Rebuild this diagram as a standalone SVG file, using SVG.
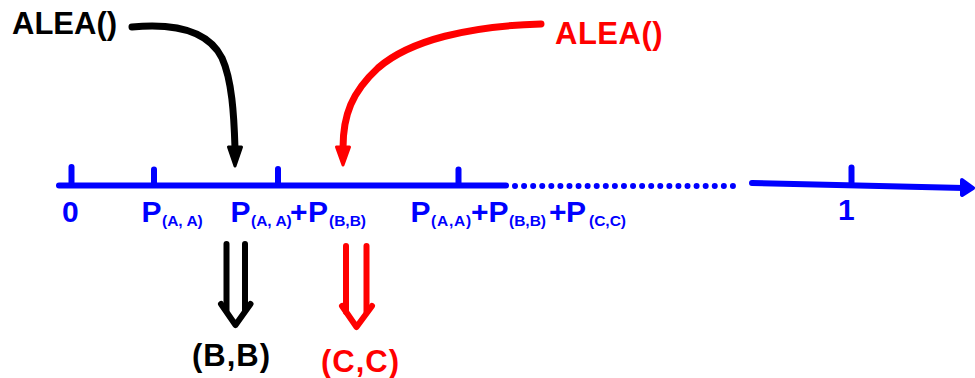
<svg xmlns="http://www.w3.org/2000/svg" width="975" height="378" viewBox="0 0 975 378">
<style>
  .t { font-family: "Liberation Sans", Arial, sans-serif; font-weight: bold; }
  .blue { fill: #0000ff; }
  .axis { stroke: #0000ff; stroke-width: 6; stroke-linecap: round; fill: none; }
  .lbl { font-size: 30px; }
  .sub { font-size: 15.5px; }
  .curveK { stroke: #000; stroke-width: 7; fill: none; stroke-linecap: round; }
  .curveR { stroke: #ff0000; stroke-width: 7; fill: none; stroke-linecap: round; }
  .dbl { stroke-width: 6; fill: none; stroke-linecap: round; stroke-linejoin: round; }
</style>
<rect width="975" height="378" fill="#fff"/>

<g id="axis">
  <line class="axis" x1="59" y1="185.5" x2="506" y2="185.5"/>
  <line class="axis" x1="515" y1="186" x2="733" y2="186" stroke-dasharray="0 9.08"/>
  <line class="axis" x1="752" y1="183" x2="964" y2="188"/>
  <polygon points="962,180 973,188 962,195" fill="#0000ff" stroke="#0000ff" stroke-width="4" stroke-linejoin="round"/>
  <line class="axis" x1="71.5" y1="167" x2="71.5" y2="185"/>
  <line class="axis" x1="154" y1="169.5" x2="154" y2="185"/>
  <line class="axis" x1="278" y1="169" x2="278" y2="185"/>
  <line class="axis" x1="458.5" y1="169.5" x2="458.5" y2="185"/>
  <line class="axis" x1="851.5" y1="167.5" x2="851.5" y2="185"/>
</g>

<g id="axis-labels" class="t blue">
  <text class="lbl" x="62" y="222">0</text>
  <text class="lbl" x="141.5" y="222">P<tspan class="sub" x="162" y="225.5">(A, A)</tspan></text>
  <text class="lbl" x="230.5" y="222">P<tspan class="sub" x="251" y="225.5">(A, A)</tspan><tspan x="290" y="222">+</tspan><tspan x="308" y="222">P</tspan><tspan class="sub" x="329" y="225.5">(B,B)</tspan></text>
  <text class="lbl" x="410.5" y="222">P<tspan class="sub" x="431" y="225.5" letter-spacing="0.8">(A,A)</tspan><tspan x="471" y="222">+</tspan><tspan x="488.5" y="222">P</tspan><tspan class="sub" x="509" y="225.5">(B,B)</tspan><tspan x="549" y="222">+</tspan><tspan x="566" y="222">P</tspan><tspan class="sub" x="589" y="225.5">(C,C)</tspan></text>
  <text class="lbl" x="838" y="220">1</text>
</g>

<g id="alea-black">
  <text class="t" x="12" y="34" font-size="31" fill="#000">ALEA()</text>
</g>
<g id="alea-red">
  <text class="t" x="555" y="44" font-size="31" fill="#ff0000" letter-spacing="0.5">ALEA()</text>
</g>

<g id="connectors">
  <path class="curveK" d="M132,27 C175,23 208,30 222,58 C232,80 234,115 235,148"/>
  <polygon points="228.5,147 241.5,147 235,166" fill="#000" stroke="#000" stroke-width="3" stroke-linejoin="round"/>
  <path class="curveR" d="M541,24 C470,26 410,40 378,68 C352,92 343,115 343,148"/>
  <polygon points="336.5,147 349.5,147 343,165" fill="#ff0000" stroke="#ff0000" stroke-width="3" stroke-linejoin="round"/>
  <g class="dbl" stroke="#000">
    <line x1="226.5" y1="244" x2="226.5" y2="310"/>
    <line x1="245" y1="244" x2="245" y2="310"/>
    <polyline points="221,304 235.5,325 250.5,304"/>
  </g>
  <g class="dbl" stroke="#ff0000">
    <line x1="346" y1="246" x2="346" y2="312"/>
    <line x1="366.5" y1="246" x2="366.5" y2="312"/>
    <polyline points="342,306 356.5,327 372,306"/>
  </g>
</g>

<g id="result-bb">
  <text class="t" x="192" y="366" font-size="31" fill="#000" letter-spacing="1">(B,B)</text>
</g>
<g id="result-cc">
  <text class="t" x="321" y="372" font-size="31" fill="#ff0000" letter-spacing="1">(C,C)</text>
</g>
</svg>
